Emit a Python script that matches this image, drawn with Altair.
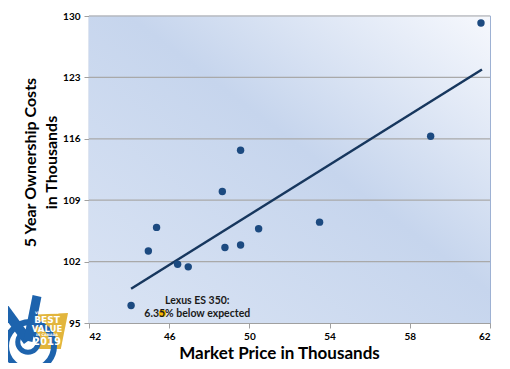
import altair as alt
import pandas as pd

# ---- data ----
market_price = [61.55, 59.04, 49.56, 48.65, 45.37, 44.96, 46.42, 46.95, 48.78, 49.56, 50.46, 53.5, 44.1]
ownership_cost = [129.2, 116.3, 114.7, 110.0, 105.9, 103.2, 101.7, 101.4, 103.6, 103.9, 105.75, 106.5, 97.0]
lexus_price = [45.66]
lexus_cost = [96.1]
trend_x = [44.1, 61.6]
trend_y = [98.9, 123.9]
x_ticks = [42, 46, 50, 54, 58, 62]
y_ticks = [95, 102, 109, 116, 123, 130]
annotation = ["Lexus ES 350:", "6.35% below expected"]
annotation_pos = [47.4, 97.55]
badge_lines = ["VINCENTRIC", "BEST", "VALUE", "IN CANADA", "2019"]

FONT = "Lato"
W, H = 401, 307

pts = pd.DataFrame({"x": market_price, "y": ownership_cost})
lex = pd.DataFrame({"x": lexus_price, "y": lexus_cost})
trend = pd.DataFrame({"x": trend_x, "y": trend_y})
grid = pd.DataFrame({"y": y_ticks[1:]})
ann = pd.DataFrame({"x": [annotation_pos[0]], "y": [annotation_pos[1]], "t": ["\n".join(annotation)]})
one = pd.DataFrame({"a": [0]})

xs = alt.Scale(domain=[42, 62], nice=False, zero=False)
ys = alt.Scale(domain=[95, 130], nice=False, zero=False)

bg = alt.Chart(one).mark_rect(
    fill=alt.Gradient(
        gradient="linear", x1=1, y1=0, x2=0, y2=1,
        stops=[alt.GradientStop(offset=0, color="#f6f8fd"),
               alt.GradientStop(offset=0.45, color="#c6d5ed"),
               alt.GradientStop(offset=1, color="#dae4f4")]
    )
).encode(x=alt.value(0), x2=alt.value(W), y=alt.value(0), y2=alt.value(H))

gridlines = alt.Chart(grid).mark_rule(color="#a9a9a9", strokeWidth=1.2).encode(
    y=alt.Y("y:Q", scale=ys)
)

xaxis = alt.Axis(values=x_ticks, title="Market Price in Thousands", grid=False,
                 labelFont=FONT, labelFontWeight="bold", labelFontSize=10, labelColor="#000",
                 titleFont=FONT, titleFontSize=17, titleFontWeight="bold", titleColor="#000",
                 titlePadding=4, titleX=190, domainColor="#a0a0a0", tickColor="#a0a0a0", tickSize=5,
                 labelPadding=3)
yaxis = alt.Axis(values=y_ticks, title=["5 Year Ownership Costs", "in Thousands"], grid=False,
                 labelFont=FONT, labelFontWeight="bold", labelFontSize=10, labelColor="#000",
                 titleFont=FONT, titleFontSize=16, titleFontWeight="bold", titleColor="#000",
                 titleX=-51, titleY=146, titleBaseline="bottom", titleAngle=270,
                 domainColor="#a0a0a0", tickColor="#a0a0a0", tickSize=5,
                 labelPadding=4, titleLineHeight=21)

points = alt.Chart(pts).mark_circle(size=55, color="#1c4a80", opacity=1).encode(
    x=alt.X("x:Q", scale=xs, axis=xaxis),
    y=alt.Y("y:Q", scale=ys, axis=yaxis),
)
lexus = alt.Chart(lex).mark_circle(size=55, color="#f6b800", opacity=1).encode(
    x=alt.X("x:Q", scale=xs), y=alt.Y("y:Q", scale=ys)
)
line = alt.Chart(trend).mark_line(color="#17375e", strokeWidth=2.5).encode(
    x=alt.X("x:Q", scale=xs), y=alt.Y("y:Q", scale=ys)
)
label = alt.Chart(ann).mark_text(font=FONT, fontWeight="bold", fontSize=10.5, color="#1a1a1a",
                                 lineBreak="\n", lineHeight=13, align="center", baseline="middle").encode(
    x=alt.X("x:Q", scale=xs), y=alt.Y("y:Q", scale=ys), text="t:N"
)

# ---- badge (decoration at lower left) ----
BLUE = "#1d63ad"
shield = alt.Chart(one).mark_point(
    shape="M-1,-0.9 L1,-1 L0.6,1 L-0.6,1 Z", filled=True, fill="#e2b53c", opacity=1, strokeWidth=0
).encode(x=alt.value(-39), y=alt.value(315), size=alt.value(1300))
ring1 = alt.Chart(one).mark_point(shape="circle", filled=False, stroke=BLUE, strokeWidth=6, opacity=1).encode(
    x=alt.value(-59), y=alt.value(330), size=alt.value(2300))
ring2 = alt.Chart(one).mark_point(shape="circle", filled=False, stroke=BLUE, strokeWidth=5, opacity=1).encode(
    x=alt.value(-61), y=alt.value(326), size=alt.value(420))
vleft = alt.Chart(one).mark_rule(stroke=BLUE, strokeWidth=10).encode(
    x=alt.value(-86), x2=alt.value(-61), y=alt.value(291), y2=alt.value(325))
vright = alt.Chart(one).mark_rule(stroke=BLUE, strokeWidth=9).encode(
    x=alt.value(-52), x2=alt.value(-61), y=alt.value(280), y2=alt.value(325))
badge_txt = pd.DataFrame({"t": badge_lines, "yy": [297, 303.5, 312.5, 318.5, 325.5],
                          "fs": [3.5, 9, 8.5, 3.5, 10]})
btxt = alt.Chart(badge_txt).mark_text(font="DejaVu Sans", fontWeight="bold", color="white",
                                      align="center", baseline="middle").encode(
    x=alt.value(-42), y=alt.Y("yy:Q", scale=None), text="t:N", size=alt.Size("fs:Q", scale=None, legend=None))

chart = alt.layer(bg, gridlines, line, points, lexus, label,
                  shield, ring1, ring2, vleft, vright, btxt).properties(
    width=W, height=H,
    autosize=alt.AutoSizeParams(type="none"),
    padding={"left": 81, "top": 8, "right": 12, "bottom": 40},
    background="white",
).configure_view(stroke="#93a9cf", strokeWidth=1.2)

chart.save("out.html", embed_options={"renderer": "svg", "actions": False})
